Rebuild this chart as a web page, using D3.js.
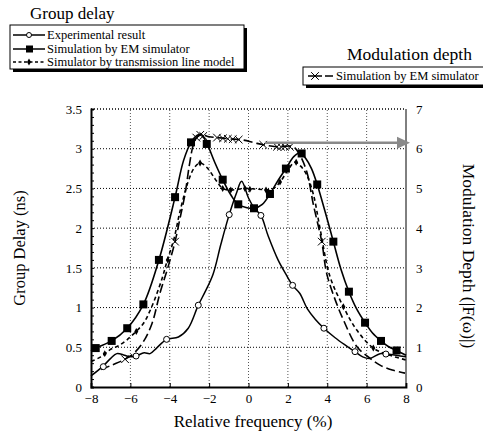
<!DOCTYPE html>
<html>
<head>
<meta charset="utf-8">
<script src="https://cdn.jsdelivr.net/npm/d3@7"></script>
<style>
  body { margin: 0; background: #fff; }
  svg text { fill: #000; }
</style>
</head>
<body>
<svg id="chart" width="483" height="438"></svg>
<script>
// Tick labels
var xTicks = [-8, -6, -4, -2, 0, 2, 4, 6, 8];
var yLeftTicks = [0, 0.5, 1, 1.5, 2, 2.5, 3, 3.5];
var yRightTicks = [0, 1, 2, 3, 4, 5, 6, 7];

// Experimental result (group delay, ns)
var expCurve = [[-8,0.14],[-7.4,0.26],[-7.0,0.36],[-6.69,0.42],[-6.3,0.40],[-6.02,0.38],[-5.71,0.39],[-5.3,0.43],[-5.0,0.42],[-4.67,0.49],[-4.16,0.60],[-3.56,0.63],[-3.06,0.74],[-2.55,1.03],[-2.2,1.2],[-1.8,1.42],[-1.4,1.8],[-0.98,2.17],[-0.6,2.45],[-0.35,2.59],[0.0,2.38],[0.3,2.25],[0.63,2.16],[1.0,1.9],[1.5,1.6],[1.9,1.42],[2.24,1.28],[2.6,1.18],[3.0,0.98],[3.4,0.85],[3.83,0.74],[4.4,0.62],[4.9,0.53],[5.41,0.445],[5.8,0.38],[6.17,0.36],[6.68,0.42],[6.98,0.415],[7.5,0.40],[8,0.38]];
var expMarks = [[-7.375,0.256],[-5.71,0.39],[-4.16,0.60],[-2.55,1.03],[-0.98,2.17],[0.63,2.16],[2.24,1.28],[3.83,0.74],[5.41,0.445],[6.98,0.415]];

// Simulation by EM simulator (group delay, ns)
var emCurve = [[-8,0.45],[-7.76,0.49],[-6.95,0.58],[-6.16,0.74],[-5.34,1.04],[-4.55,1.60],[-3.73,2.39],[-3.3,2.85],[-2.92,3.08],[-2.6,3.17],[-2.4,3.18],[-2.12,3.07],[-1.7,2.82],[-1.31,2.61],[-0.9,2.42],[-0.52,2.30],[0.28,2.25],[0.7,2.3],[1.09,2.43],[1.5,2.6],[1.90,2.75],[2.3,2.9],[2.62,2.95],[2.9,2.88],[3.2,2.75],[3.49,2.55],[3.9,2.2],[4.31,1.83],[4.7,1.48],[5.10,1.20],[5.5,0.98],[5.92,0.81],[6.3,0.68],[6.73,0.58],[7.1,0.51],[7.52,0.46],[8,0.40]];
var emMarks = [[-7.76,0.49],[-6.95,0.58],[-6.16,0.74],[-5.34,1.04],[-4.55,1.60],[-3.73,2.39],[-2.92,3.08],[-2.12,3.06],[-1.31,2.61],[-0.52,2.30],[0.28,2.25],[1.09,2.43],[1.90,2.75],[2.70,2.94],[3.49,2.55],[4.31,1.83],[5.10,1.20],[5.92,0.81],[6.73,0.58],[7.52,0.46]];

// Simulator by transmission line model (group delay, ns)
var tlCurve = [[-8,0.32],[-7.5,0.38],[-7.03,0.47],[-6.6,0.52],[-6.19,0.59],[-5.75,0.69],[-5.34,0.80],[-4.95,0.99],[-4.41,1.35],[-4.12,1.6],[-3.8,1.85],[-3.48,2.21],[-3.06,2.59],[-2.75,2.76],[-2.46,2.82],[-2.1,2.76],[-1.7,2.62],[-1.31,2.5],[-0.9,2.48],[-0.2,2.5],[0.5,2.49],[1.2,2.49],[1.6,2.58],[2.0,2.73],[2.35,2.83],[2.65,2.78],[2.96,2.67],[3.30,2.42],[3.63,2.0],[4.14,1.39],[4.82,1.01],[5.49,0.72],[6.34,0.49],[7.18,0.40],[8,0.34]];
var tlMarks = [[-7.3,0.42],[-5.7,0.70],[-4.1,1.6],[-2.46,2.82],[-1.31,2.5],[-0.9,2.48],[-0.18,2.5],[0.07,2.49],[0.89,2.48],[1.6,2.58],[2.42,2.83],[4.82,1.01],[6.34,0.49]];

// Modulation depth, simulation by EM simulator (|F(w)|)
var mdCurve = [[-7.5,0.44],[-6.9,0.56],[-6.27,0.70],[-5.8,0.86],[-5.34,1.14],[-4.9,1.6],[-4.5,2.36],[-4.1,3.0],[-3.73,3.66],[-3.5,4.2],[-3.23,4.84],[-3.0,5.6],[-2.8,6.1],[-2.6,6.3],[-2.4,6.35],[-2.0,6.3],[-1.6,6.28],[-1.0,6.25],[-0.3,6.22],[0.3,6.15],[0.75,6.1],[1.4,6.05],[2.27,6.05],[2.6,5.85],[2.96,5.42],[3.30,4.58],[3.72,3.66],[3.97,2.86],[4.4,2.2],[4.82,1.69],[5.5,1.02],[6.1,0.75],[6.68,0.55],[7.3,0.43],[7.95,0.35]];
var mdMarks = [[-6.27,0.70],[-3.73,3.66],[-2.65,6.28],[-2.45,6.35],[-2.3,6.32],[-1.6,6.28],[-1.3,6.26],[-1.05,6.25],[-0.8,6.24],[-0.5,6.23],[0.75,6.1],[1.45,6.05],[1.65,6.05],[1.85,6.05],[2.1,6.05],[3.72,3.66]];

// Arrow pointing at the right axis
var arrowFrom = [0.83, 6.15];
var arrowTo = [8, 6.15];

var svg = d3.select('#chart');
var serif = '"Liberation Serif", "Times New Roman", Times, "Nimbus Roman", FreeSerif, "Noto Serif", "DejaVu Serif", serif';
svg.attr('font-family', serif);

var x = d3.scaleLinear().domain([-8, 8]).range([91, 406]);
var yL = d3.scaleLinear().domain([0, 3.5]).range([387, 109]);
var yR = d3.scaleLinear().domain([0, 7]).range([387, 109]);

// Grid lines (dotted).
svg.append('g').selectAll('line').data(xTicks.slice(1, -1)).enter().append('line')
   .attr('x1', function(d) { return x(d); }).attr('x2', function(d) { return x(d); })
   .attr('y1', yL(0)).attr('y2', yL(3.5))
   .attr('stroke', '#555').attr('stroke-width', 1).attr('stroke-dasharray', '1,2');
svg.append('g').selectAll('line').data(yLeftTicks.slice(1)).enter().append('line')
   .attr('x1', x(-8)).attr('x2', x(8))
   .attr('y1', function(d) { return yL(d); }).attr('y2', function(d) { return yL(d); })
   .attr('stroke', '#000').attr('stroke-width', function(d) { return d === 3.5 ? 1.5 : 1; })
   .attr('stroke-dasharray', '1,2');

// Right frame line.
svg.append('line').attr('x1', x(8)).attr('x2', x(8)).attr('y1', yL(0)).attr('y2', yL(3.5))
   .attr('stroke', '#000').attr('stroke-width', 1);

// Axes
var bottomAxis = d3.axisBottom(x).tickValues(xTicks).tickSize(-4).tickPadding(7)
                   .tickFormat(d3.format('d'));
var gB = svg.append('g').attr('transform', 'translate(0,' + yL(0) + ')').call(bottomAxis);

var leftAxis = d3.axisLeft(yL).tickValues(d3.range(0, 3.501, 0.1)).tickSize(-3).tickPadding(9)
                 .tickFormat(function(d) {
                   var r = Math.round(d * 10) / 10;
                   return (Math.round(r * 2) === r * 2) ? String(r) : '';
                 });
var gL = svg.append('g').attr('transform', 'translate(' + x(-8) + ',0)').call(leftAxis);

var rightAxis = d3.axisRight(yR).tickValues(yRightTicks).tickSize(0).tickPadding(10)
                  .tickFormat(d3.format('d'));
var gR = svg.append('g').attr('transform', 'translate(' + x(8) + ',0)').call(rightAxis);

[gB, gL, gR].forEach(function(g) {
  g.attr('font-family', serif).attr('font-size', 13);
  g.selectAll('line').attr('stroke', '#000');
});
gR.select('.domain').remove();
gB.select('.domain').attr('stroke-width', 1.8);
gL.select('.domain').attr('stroke-width', 2);

// Axis titles
svg.append('text').attr('x', 253).attr('y', 427).attr('text-anchor', 'middle')
   .attr('font-size', 17).text('Relative frequency (%)');
svg.append('text').attr('transform', 'translate(25,248) rotate(-90)').attr('text-anchor', 'middle')
   .attr('font-size', 16.5).text('Group Delay (ns)');
svg.append('text').attr('transform', 'translate(463,256) rotate(90)').attr('text-anchor', 'middle')
   .attr('font-size', 17.5).text('Modulation Depth (|F(\u03c9)|)');

// Curves
var lineL = d3.line().x(function(d) { return x(d[0]); }).y(function(d) { return yL(d[1]); })
              .curve(d3.curveCatmullRom.alpha(0.5));
var lineR = d3.line().x(function(d) { return x(d[0]); }).y(function(d) { return yR(d[1]); })
              .curve(d3.curveCatmullRom.alpha(0.5));

var plot = svg.append('g');

plot.append('path').datum(mdCurve).attr('d', lineR).attr('fill', 'none')
    .attr('stroke', '#000').attr('stroke-width', 1.6).attr('stroke-dasharray', '9,4');
plot.append('path').datum(tlCurve).attr('d', lineL).attr('fill', 'none')
    .attr('stroke', '#000').attr('stroke-width', 1.6).attr('stroke-dasharray', '4,3');
plot.append('path').datum(expCurve).attr('d', lineL).attr('fill', 'none')
    .attr('stroke', '#000').attr('stroke-width', 1.5);
plot.append('path').datum(emCurve).attr('d', lineL).attr('fill', 'none')
    .attr('stroke', '#000').attr('stroke-width', 1.6);

// Markers
var cross = d3.symbol().type(d3.symbolX).size(40);
var diamond = d3.symbol().type(d3.symbolDiamond).size(14);

plot.append('g').selectAll('path').data(mdMarks).enter().append('path')
    .attr('d', cross)
    .attr('transform', function(d) { return 'translate(' + x(d[0]) + ',' + yR(d[1]) + ')'; })
    .attr('fill', 'none').attr('stroke', '#000').attr('stroke-width', 1);
plot.append('g').selectAll('path').data(tlMarks).enter().append('path')
    .attr('d', diamond)
    .attr('transform', function(d) { return 'translate(' + x(d[0]) + ',' + yL(d[1]) + ')'; })
    .attr('fill', '#000');
plot.append('g').selectAll('circle').data(expMarks).enter().append('circle')
    .attr('cx', function(d) { return x(d[0]); }).attr('cy', function(d) { return yL(d[1]); })
    .attr('r', 3).attr('fill', '#fff').attr('stroke', '#000').attr('stroke-width', 1);
plot.append('g').selectAll('rect').data(emMarks).enter().append('rect')
    .attr('x', function(d) { return x(d[0]) - 4; }).attr('y', function(d) { return yL(d[1]) - 4; })
    .attr('width', 8).attr('height', 8).attr('fill', '#000');

// Gray arrow towards the right axis
plot.append('line').attr('x1', x(arrowFrom[0])).attr('y1', yR(arrowFrom[1]))
    .attr('x2', x(arrowTo[0]) - 4).attr('y2', yR(arrowTo[1]))
    .attr('stroke', '#8a8a8a').attr('stroke-width', 2.5);
var ax = x(arrowTo[0]) + 4, ay = yR(arrowTo[1]);
plot.append('path')
    .attr('d', 'M' + ax + ',' + ay + 'L' + (ax - 13) + ',' + (ay - 6) + 'L' + (ax - 13) + ',' + (ay + 6) + 'Z')
    .attr('fill', '#8a8a8a');

// Legend boxes with drop shadow.
var drawBox = function(bx, by, bw, bh) {
  svg.append('rect').attr('x', bx + 3).attr('y', by + 3).attr('width', bw).attr('height', bh).attr('fill', '#000');
  svg.append('rect').attr('x', bx).attr('y', by).attr('width', bw).attr('height', bh)
     .attr('fill', '#fff').attr('stroke', '#000').attr('stroke-width', 1);
};

svg.append('text').attr('x', 30).attr('y', 19).attr('font-size', 17).text('Group delay');
drawBox(10, 25, 234, 44);

var legendRows = [
  { label: 'Experimental result', dash: null, mark: 'circle', y: 35 },
  { label: 'Simulation by EM simulator', dash: null, mark: 'square', y: 49 },
  { label: 'Simulator by transmission line model', dash: '3,2.5', mark: 'diamond', y: 62 }
];
legendRows.forEach(function(r) {
  svg.append('line').attr('x1', 13).attr('x2', 45).attr('y1', r.y).attr('y2', r.y)
     .attr('stroke', '#000').attr('stroke-width', 1.5).attr('stroke-dasharray', r.dash);
  if (r.mark === 'circle') {
    svg.append('circle').attr('cx', 29).attr('cy', r.y).attr('r', 2.5)
       .attr('fill', '#fff').attr('stroke', '#000');
  } else if (r.mark === 'square') {
    svg.append('rect').attr('x', 26).attr('y', r.y - 3.5).attr('width', 7).attr('height', 7).attr('fill', '#000');
  } else {
    svg.append('path').attr('d', diamond).attr('transform', 'translate(29,' + r.y + ')').attr('fill', '#000');
  }
  svg.append('text').attr('x', 47).attr('y', r.y + 4).attr('font-size', 12.5).text(r.label);
});

svg.append('text').attr('x', 347).attr('y', 60).attr('font-size', 17.5).text('Modulation depth');
drawBox(303, 67, 190, 18);
svg.append('line').attr('x1', 308).attr('x2', 333).attr('y1', 76).attr('y2', 76)
   .attr('stroke', '#000').attr('stroke-width', 1.3).attr('stroke-dasharray', '14,3');
svg.append('path').attr('d', cross).attr('transform', 'translate(315,76)')
   .attr('fill', 'none').attr('stroke', '#000');
svg.append('text').attr('x', 336).attr('y', 80).attr('font-size', 12.5).text('Simulation by EM simulator');
</script>
</body>
</html>
